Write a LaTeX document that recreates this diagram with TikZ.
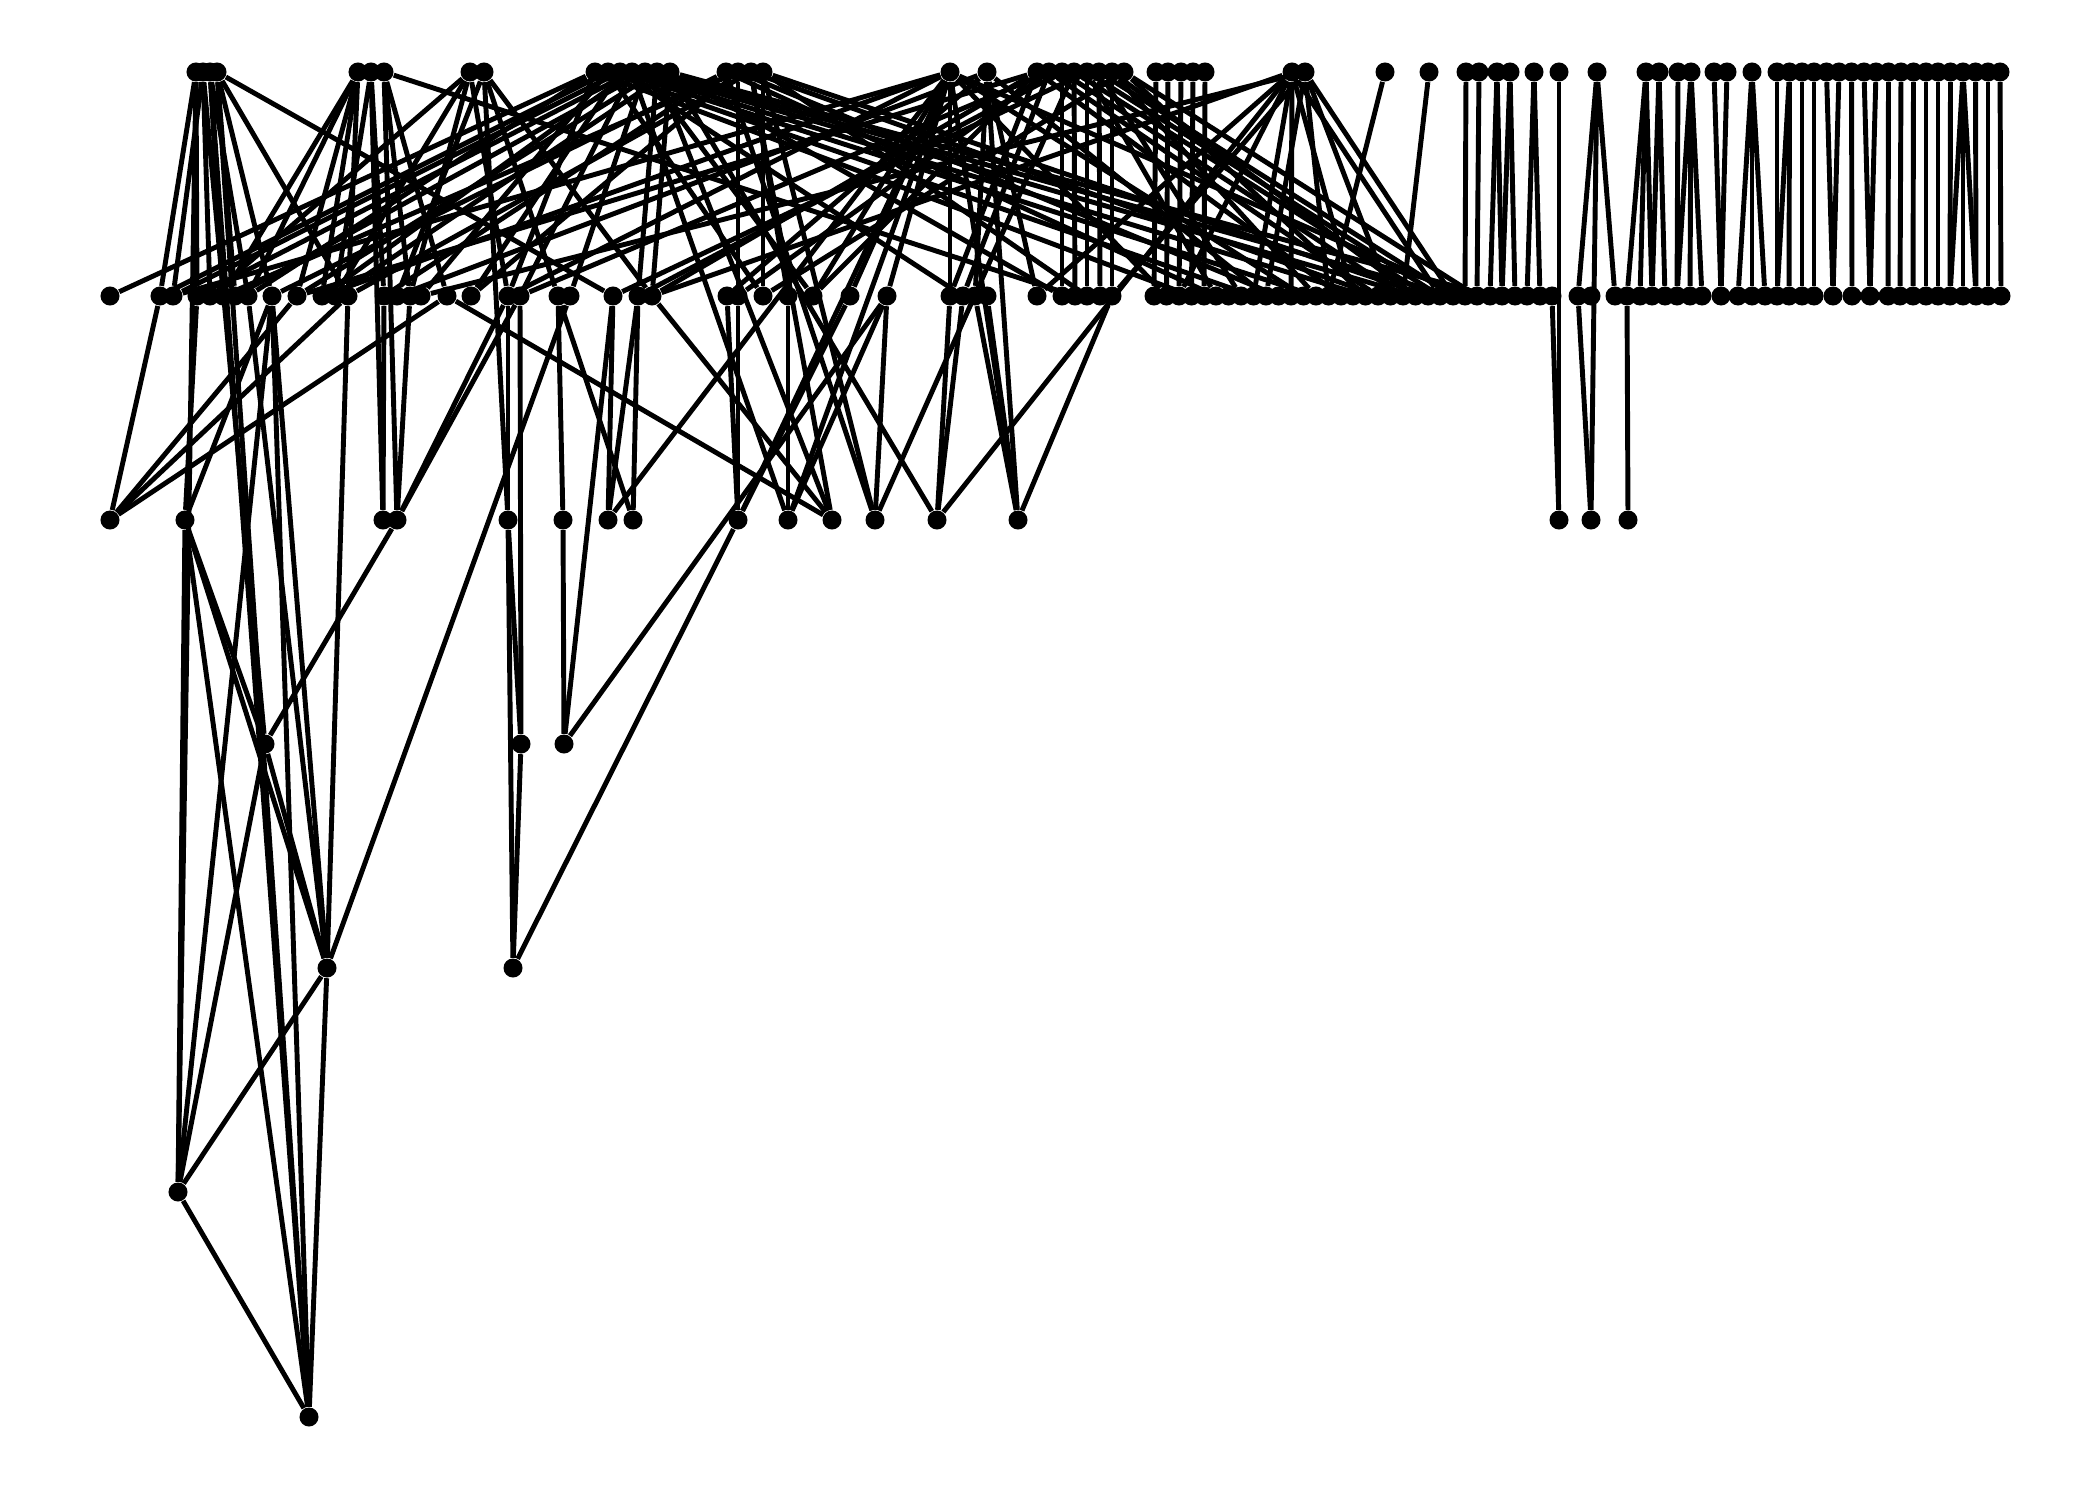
\documentclass[tikz,border=0pt]{standalone}
\begin{document}
\begin{tikzpicture}[x=0.01cm,y=-0.01cm,
  dot/.style={circle,fill=black,inner sep=0pt,minimum size=0.19cm},
  edge/.style={line width=1.4pt,black}]
\useasboundingbox (0,0) rectangle (2100,1500);
% layer 1 (top)
\foreach \x [count=\i] in {196,203,210,217,358,371,384,470,484,595,608,620,632,645,657,670,726,738,751,763,950,987,1037,1049,1062,1074,1087,1099,1112,1124,1156,1168,1181,1193,1205,1292,1305,1385,1429,1466,1479,1497,1510,1534,1559,1597,1646,1659,1678,1691,1714,1727,1752,1777,1789.5,1802,1814,1826.5,1839,1851.5,1864,1876,1888.5,1901,1913.5,1926,1938,1950.5,1963,1975.5,1988,2000}
  \node[dot] (t\i) at (\x,72) {};
% layer 2
\foreach \x [count=\i] in {110,160,173,197,210,223,235,248,272,297,322,335,348,384,397,410,421,447,471,508,520,558,570,613,638,652,727,738,763,788,813,850,887,950,963,975,987,1037,1062,1075,1087,1100,1112,1154,1166.5,1179,1191.5,1204,1216,1228.5,1241,1253.5,1266,1278.5,1291,1303.5,1316,1328.5,1341,1353,1365.5,1378,1390.5,1403,1415.5,1428,1440,1453,1465,1477,1490,1502,1515,1527,1540,1552,1578,1591,1615,1627,1640,1652,1665,1677,1690,1702,1721,1738,1752,1765,1777,1789,1802,1814,1833,1852,1870,1888,1900,1913,1926,1938,1950,1963,1976,1988,2001}
  \node[dot] (m\i) at (\x,296) {};
% layer 3
\foreach \x [count=\i] in {110,185,383,397,508,563,608,633,738,788,832,875,937,1018,1559,1591,1628}
  \node[dot] (c\i) at (\x,520) {};
% lower layers
\foreach \x [count=\i] in {265,521,564} \node[dot] (d\i) at (\x,744) {};
\foreach \x [count=\i] in {327,513} \node[dot] (e\i) at (\x,968) {};
\node[dot] (f1) at (178,1192) {};
\node[dot] (g1) at (309,1417) {};
% edges
\foreach \a/\b in {
 t1/m2, t1/m4, t1/f1, t2/m3, t2/m5, t2/d1, t3/m6, t3/m8, t3/g1, t4/g1, t4/m7, t4/m9, t4/m13, t4/m24,
 t5/m6, t5/m10, t5/m13, t5/m11, t6/c3, t6/m14, t6/m12, t7/c4, t7/m16, t7/m18, t7/m40, t5/m8,
 t8/m5, t8/m12, t8/m20, t8/m16, t9/m22, t9/m26, t9/m15, t9/c5,
 t10/m1, t11/m2, t12/m3, t10/m8, t13/m11, t14/m7, t15/m10, t16/m12, t12/m19, t13/m21, t14/m23, t15/m25, t16/m26, t10/m20,
 t10/m47, t11/m52, t12/m57, t13/m61, t14/m65, t15/m68, t16/m71, t16/m39, t14/m31, t13/c10, t15/c11, t11/m29, t12/m35, t16/c13, t11/m17, t13/m4,
 t17/m9, t17/m14, t18/m19, t18/m28, t19/c11, t19/m30, t20/c12, t20/m29, t17/m49, t18/m54, t19/m62, t20/m66, t20/m41, t17/c12, t18/m6, t19/m13,
 t21/m3, t21/m11, t21/m20, t21/c9, t21/c10, t21/m31, t21/m32, t21/m33, t21/m34, t21/c14, t21/m69, t21/m56, t21/m45, t21/c7,
 t22/c14, t22/m36, t22/m38, t22/m27, t22/m53, t22/m15,
 t23/m34, t23/m31, t23/m59, t23/m26, t24/m35, t24/m62, t24/m21, t25/m39, t25/m64, t25/m25, t26/m40, t26/m66, t26/c12, t27/m41, t27/m67, t27/m49, t27/m24,
 t28/m42, t28/m68, t28/m51, t29/m43, t29/m65, t29/m57, t30/m70, t30/m61, t30/m29, t24/m28, t23/m10,
 t31/m44, t32/m45, t33/m46, t34/m47, t35/m48,
 t36/m46, t36/m52, t36/m55, t36/m60, t36/m67, t37/m53, t37/m58, t37/m63, t37/m68, t36/c13, t36/m26, t37/m17, t36/m38, t37/m43,
 t38/m58, t39/m64, t40/m69, t41/m70, t42/m71, t42/m72, t43/m73, t43/m72, t44/m74, t44/m75, t45/c15, m76/c15,
 t46/m77, t46/c16, t46/m79, m77/c16, t47/m80, t47/m81, t47/m82, t48/m82, t48/m83, t49/m84, t50/m85, t50/m86, t50/m84,
 t51/m87, t52/m87, t53/m88, t53/m89, t53/m90, t54/m91, t55/m91, t55/m92, t56/m93, t57/m94, t58/m95, t59/m95, t60/m96,
 t61/m97, t62/m97, t63/m98, t64/m99, t65/m100, t66/m101, t67/m102, t68/m103, t69/m103, t69/m104, t69/m105, t70/m105, t71/m106, t72/m107, m80/c17,
 m2/c1, m10/c1, m13/c1, m18/c1, m4/c2, m9/c2, m14/c3, m16/c4, m20/c4, m21/c4, m20/c5, m22/c6, m24/c7, m25/c7, m25/c8, m22/c8,
 m27/c9, m28/c9, m30/c10, m33/c10, m26/c11, m18/c11, m33/c12, m34/c13, m35/c13, m36/c14, m37/c14, m43/c14,
 c2/d1, c4/d1, c2/e1, c2/f1, c2/g1, c5/d2, c5/e2, m21/d2, d2/e2, c6/d3, m24/d3, m33/d3, c9/e2, m32/c9,
 d1/f1, d1/e1, m8/e1, m9/e1, m13/e1, m23/e1, m9/f1, e1/f1, e1/g1, f1/g1, m9/g1}
  \draw[edge] (\a) -- (\b);
\end{tikzpicture}
\end{document}
